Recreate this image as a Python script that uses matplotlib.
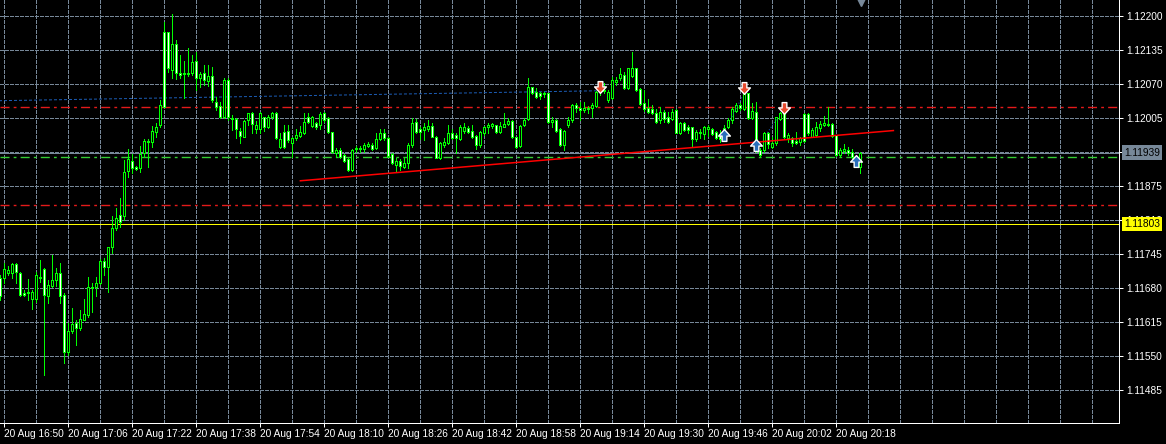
import numpy as np
import matplotlib
matplotlib.use('Agg')
import matplotlib.pyplot as plt
from matplotlib.path import Path

# EURUSD M1, 20 Aug 16:49 .. 20:24 (one candle per minute)
opens = [
    1.11699, 1.11699, 1.11709, 1.11709, 1.11726, 1.11709, 1.11671, 1.11671, 1.11659, 1.11659, 1.11699, 1.11717,
    1.11665, 1.11684, 1.11696, 1.11709, 1.11667, 1.11558, 1.11598, 1.11613, 1.11604, 1.11619, 1.11629, 1.11682,
    1.11682, 1.11690, 1.11732, 1.11720, 1.11759, 1.11795, 1.11820, 1.11818, 1.11904, 1.11923, 1.11912, 1.11910,
    1.11938, 1.11960, 1.11960, 1.11979, 1.11992, 1.12170, 1.12170, 1.12097, 1.12147, 1.12091, 1.12091, 1.12090,
    1.12091, 1.12114, 1.12082, 1.12091, 1.12076, 1.12086, 1.12036, 1.12028, 1.12007, 1.12078, 1.12005, 1.12003,
    1.11981, 1.11969, 1.12002, 1.12015, 1.11984, 1.11984, 1.12007, 1.11988, 1.12007, 1.12015, 1.11950, 1.11979,
    1.11981, 1.11958, 1.11967, 1.11971, 1.11977, 1.12007, 1.11990, 1.11996, 1.11992, 1.12015, 1.12005, 1.11979,
    1.11938, 1.11944, 1.11935, 1.11927, 1.11906, 1.11946, 1.11948, 1.11946, 1.11952, 1.11954, 1.11948, 1.11965,
    1.11977, 1.11967, 1.11937, 1.11916, 1.11923, 1.11912, 1.11919, 1.11954, 1.11998, 1.11984, 1.11982, 1.11984,
    1.11990, 1.11969, 1.11929, 1.11954, 1.11958, 1.11977, 1.11973, 1.11965, 1.11981, 1.11986, 1.11981, 1.11971,
    1.11954, 1.11977, 1.11988, 1.11990, 1.11992, 1.11979, 1.11988, 1.11994, 1.12000, 1.11969, 1.11952, 1.11992,
    1.12003, 1.12065, 1.12055, 1.12053, 1.12053, 1.12053, 1.11998, 1.12002, 1.11984, 1.11954, 1.11992, 1.12002,
    1.12030, 1.12024, 1.12021, 1.12024, 1.12024, 1.12028, 1.12055, 1.12059, 1.12040, 1.12044, 1.12074, 1.12082,
    1.12088, 1.12063, 1.12086, 1.12101, 1.12061, 1.12034, 1.12024, 1.12023, 1.12015, 1.12002, 1.12017, 1.12007,
    1.12003, 1.12021, 1.11977, 1.11996, 1.11988, 1.11988, 1.11965, 1.11979, 1.11975, 1.11984, 1.11984, 1.11979,
    1.11975, 1.11979, 1.11988, 1.12002, 1.12019, 1.12030, 1.12023, 1.12053, 1.12005, 1.12017, 1.11944, 1.11944,
    1.11977, 1.11950, 1.11958, 1.12003, 1.12015, 1.11967, 1.11967, 1.11961, 1.11960, 1.12013, 1.12013, 1.11969,
    1.11973, 1.11986, 1.11992, 1.11992, 1.11994, 1.11973, 1.11935, 1.11942, 1.11944, 1.11940, 1.11931, 1.11912,
]
highs = [
    1.11705, 1.11728, 1.11722, 1.11728, 1.11728, 1.11711, 1.11677, 1.11698, 1.11677, 1.11711, 1.11734, 1.11719,
    1.11696, 1.11743, 1.11719, 1.11728, 1.11671, 1.11613, 1.11642, 1.11619, 1.11638, 1.11659, 1.11701, 1.11690,
    1.11701, 1.11736, 1.11738, 1.11759, 1.11818, 1.11833, 1.11852, 1.11925, 1.11946, 1.11937, 1.11914, 1.11952,
    1.11965, 1.11965, 1.11990, 1.11996, 1.12040, 1.12189, 1.12170, 1.12204, 1.12155, 1.12126, 1.12114, 1.12139,
    1.12126, 1.12132, 1.12093, 1.12107, 1.12107, 1.12103, 1.12046, 1.12036, 1.12082, 1.12082, 1.12011, 1.12005,
    1.11986, 1.12002, 1.12015, 1.12017, 1.12000, 1.12017, 1.12007, 1.12011, 1.12017, 1.12017, 1.11977, 1.11992,
    1.11992, 1.11969, 1.11984, 1.11990, 1.12015, 1.12015, 1.12009, 1.11998, 1.12017, 1.12017, 1.12007, 1.11979,
    1.11948, 1.11948, 1.11937, 1.11929, 1.11946, 1.11952, 1.11952, 1.11958, 1.11960, 1.11958, 1.11977, 1.11984,
    1.11984, 1.11969, 1.11938, 1.11929, 1.11927, 1.11929, 1.11958, 1.12005, 1.12003, 1.11988, 1.11996, 1.12002,
    1.11996, 1.11971, 1.11960, 1.11967, 1.11992, 1.11984, 1.11977, 1.11992, 1.11996, 1.11990, 1.11992, 1.11973,
    1.11981, 1.11990, 1.11996, 1.11996, 1.11992, 1.11998, 1.12015, 1.12005, 1.12002, 1.11969, 1.11992, 1.12005,
    1.12082, 1.12065, 1.12063, 1.12055, 1.12055, 1.12053, 1.12007, 1.12003, 1.11986, 1.11982, 1.12007, 1.12032,
    1.12034, 1.12036, 1.12036, 1.12028, 1.12034, 1.12057, 1.12072, 1.12072, 1.12059, 1.12084, 1.12084, 1.12101,
    1.12093, 1.12101, 1.12132, 1.12101, 1.12063, 1.12059, 1.12042, 1.12030, 1.12023, 1.12026, 1.12021, 1.12017,
    1.12023, 1.12023, 1.11998, 1.11998, 1.11992, 1.11988, 1.11982, 1.11984, 1.11990, 1.11992, 1.11986, 1.11981,
    1.11982, 1.11992, 1.12005, 1.12026, 1.12034, 1.12034, 1.12053, 1.12053, 1.12034, 1.12036, 1.11948, 1.11979,
    1.11979, 1.11969, 1.12007, 1.12017, 1.12015, 1.11977, 1.11969, 1.11979, 1.11969, 1.12015, 1.12015, 1.11986,
    1.11998, 1.12000, 1.12009, 1.12026, 1.11996, 1.11973, 1.11948, 1.11956, 1.11950, 1.11946, 1.11933, 1.11940,
]
lows = [
    1.11657, 1.11690, 1.11705, 1.11699, 1.11690, 1.11665, 1.11665, 1.11657, 1.11640, 1.11654, 1.11692, 1.11514,
    1.11652, 1.11682, 1.11684, 1.11652, 1.11537, 1.11552, 1.11594, 1.11571, 1.11600, 1.11619, 1.11625, 1.11635,
    1.11665, 1.11688, 1.11705, 1.11673, 1.11747, 1.11791, 1.11797, 1.11810, 1.11893, 1.11900, 1.11906, 1.11902,
    1.11931, 1.11912, 1.11950, 1.11969, 1.11988, 1.12026, 1.12093, 1.12082, 1.12080, 1.12082, 1.12044, 1.12086,
    1.12088, 1.12059, 1.12065, 1.12068, 1.12067, 1.12036, 1.12021, 1.12005, 1.12005, 1.12002, 1.11982, 1.11967,
    1.11958, 1.11969, 1.11992, 1.11977, 1.11977, 1.11977, 1.11981, 1.11986, 1.12003, 1.11965, 1.11948, 1.11948,
    1.11960, 1.11931, 1.11963, 1.11969, 1.11975, 1.11996, 1.11988, 1.11984, 1.11984, 1.11998, 1.11977, 1.11938,
    1.11931, 1.11929, 1.11921, 1.11904, 1.11904, 1.11940, 1.11940, 1.11940, 1.11950, 1.11944, 1.11946, 1.11963,
    1.11963, 1.11931, 1.11917, 1.11902, 1.11906, 1.11910, 1.11910, 1.11950, 1.11977, 1.11965, 1.11963, 1.11981,
    1.11969, 1.11929, 1.11927, 1.11950, 1.11956, 1.11965, 1.11938, 1.11963, 1.11977, 1.11977, 1.11967, 1.11946,
    1.11950, 1.11973, 1.11977, 1.11986, 1.11977, 1.11977, 1.11988, 1.11992, 1.11967, 1.11948, 1.11950, 1.11990,
    1.12002, 1.12051, 1.12044, 1.12042, 1.12046, 1.11996, 1.11988, 1.11979, 1.11952, 1.11944, 1.11988, 1.11998,
    1.12017, 1.12002, 1.12017, 1.12015, 1.12007, 1.12026, 1.12049, 1.12053, 1.12036, 1.12042, 1.12068, 1.12078,
    1.12061, 1.12061, 1.12084, 1.12057, 1.12030, 1.12019, 1.12015, 1.12013, 1.11996, 1.11996, 1.11998, 1.11996,
    1.12002, 1.11977, 1.11975, 1.11981, 1.11977, 1.11950, 1.11961, 1.11967, 1.11965, 1.11971, 1.11973, 1.11965,
    1.11960, 1.11977, 1.11986, 1.11996, 1.12017, 1.12021, 1.12021, 1.12003, 1.12003, 1.11940, 1.11931, 1.11940,
    1.11948, 1.11948, 1.11954, 1.12002, 1.11967, 1.11960, 1.11952, 1.11956, 1.11954, 1.11960, 1.11973, 1.11969,
    1.11971, 1.11981, 1.11990, 1.11990, 1.11969, 1.11933, 1.11931, 1.11938, 1.11935, 1.11929, 1.11912, 1.11900,
]
closes = [
    1.11665, 1.11717, 1.11715, 1.11726, 1.11711, 1.11667, 1.11667, 1.11673, 1.11673, 1.11705, 1.11701, 1.11667,
    1.11686, 1.11696, 1.11709, 1.11665, 1.11558, 1.11598, 1.11612, 1.11604, 1.11621, 1.11631, 1.11682, 1.11680,
    1.11690, 1.11732, 1.11720, 1.11759, 1.11795, 1.11814, 1.11807, 1.11902, 1.11927, 1.11910, 1.11908, 1.11937,
    1.11961, 1.11961, 1.11981, 1.11988, 1.12030, 1.12026, 1.12101, 1.12147, 1.12091, 1.12088, 1.12090, 1.12091,
    1.12112, 1.12082, 1.12090, 1.12078, 1.12086, 1.12040, 1.12026, 1.12007, 1.12078, 1.12007, 1.12003, 1.11984,
    1.11971, 1.12000, 1.12015, 1.11994, 1.11992, 1.12015, 1.11988, 1.12007, 1.12015, 1.11967, 1.11965, 1.11950,
    1.11963, 1.11967, 1.11973, 1.11979, 1.11998, 1.11998, 1.12007, 1.11988, 1.12013, 1.12002, 1.11979, 1.11940,
    1.11944, 1.11931, 1.11923, 1.11906, 1.11944, 1.11948, 1.11946, 1.11954, 1.11956, 1.11946, 1.11965, 1.11977,
    1.11967, 1.11933, 1.11919, 1.11923, 1.11914, 1.11919, 1.11954, 1.11996, 1.11979, 1.11979, 1.11988, 1.11990,
    1.11969, 1.11929, 1.11958, 1.11960, 1.11977, 1.11967, 1.11967, 1.11988, 1.11988, 1.11979, 1.11969, 1.11954,
    1.11979, 1.11988, 1.11992, 1.11994, 1.11979, 1.11990, 1.11994, 1.12000, 1.11969, 1.11950, 1.11990, 1.12002,
    1.12065, 1.12053, 1.12046, 1.12047, 1.12051, 1.11998, 1.12002, 1.11981, 1.11954, 1.11981, 1.12002, 1.12030,
    1.12024, 1.12021, 1.12024, 1.12023, 1.12030, 1.12055, 1.12059, 1.12057, 1.12055, 1.12078, 1.12078, 1.12090,
    1.12063, 1.12101, 1.12101, 1.12059, 1.12032, 1.12023, 1.12017, 1.12015, 1.11998, 1.12017, 1.12003, 1.11998,
    1.12017, 1.11977, 1.11996, 1.11982, 1.11982, 1.11965, 1.11979, 1.11977, 1.11988, 1.11988, 1.11975, 1.11967,
    1.11965, 1.11986, 1.12002, 1.12023, 1.12030, 1.12024, 1.12053, 1.12005, 1.12019, 1.11944, 1.11935, 1.11977,
    1.11956, 1.11958, 1.12007, 1.12015, 1.11969, 1.11973, 1.11958, 1.11958, 1.11967, 1.11961, 1.11977, 1.11982,
    1.11988, 1.11994, 1.11996, 1.11994, 1.11971, 1.11935, 1.11944, 1.11946, 1.11938, 1.11931, 1.11916, 1.11939,
]

# time axis labels, every 16 bars starting at bar 1 (16:50)
time_labels = ['20 Aug 16:50', '20 Aug 17:06', '20 Aug 17:22', '20 Aug 17:38', '20 Aug 17:54',
               '20 Aug 18:10', '20 Aug 18:26', '20 Aug 18:42', '20 Aug 18:58', '20 Aug 19:14',
               '20 Aug 19:30', '20 Aug 19:46', '20 Aug 20:02', '20 Aug 20:18']
price_grid = [1.11485, 1.11550, 1.11615, 1.11680, 1.11745, 1.11810,
              1.11875, 1.11940, 1.12005, 1.12070, 1.12135, 1.12200]

bid = 1.11939
alert_level = 1.11803
red_levels = [1.12026, 1.11839]
green_level = 1.11931

# trend lines: (bar, price) end points
support_line = ([75, 223.25], [1.11885, 1.11981])
blue_line = ([-1, 149], [1.12038, 1.12057])
blue_segments = [([182.5, 185.5], [1.12002, 1.12046]), ([191.75, 194.25], [1.11977, 1.12005])]

# signal arrows
sell_bars = [150, 186, 196]
sell_prices = [1.12065, 1.12063, 1.12024]
buy_bars = [181, 189, 214]
buy_prices = [1.11973, 1.11954, 1.11923]

plt.rcParams['font.family'] = ['Liberation Sans', 'DejaVu Sans']

PX = 0.72  # one pixel in points at dpi 100
LIME = '#00ff00'
GRID = '#778899'

fig = plt.figure(figsize=(11.66, 4.44), dpi=100, facecolor='black')
ax = fig.add_axes([0, 21 / 444, 1119 / 1166, 423 / 444], facecolor='black')

o = np.array(opens)
h = np.array(highs)
l = np.array(lows)
c = np.array(closes)
x = np.arange(len(o))

ax.vlines(x, l, h, color=LIME, lw=PX, zorder=4, antialiased=False)
bear = c < o
ax.bar(x, np.abs(c - o), bottom=np.minimum(o, c), width=0.5,
       color=np.where(bear, 'white', 'black'), edgecolor=LIME,
       linewidth=PX, zorder=5, antialiased=False)

# horizontal levels (dash-dot, pattern in units of line width)
levels_ls = (0, (6.5, 3, 2, 3))
for lv in red_levels:
    ax.axhline(lv, color='#e41a1a', lw=1.0, ls=levels_ls, zorder=2)
ax.axhline(green_level, color='#34cc34', lw=1.0, ls=levels_ls, zorder=2)
ax.axhline(bid, color=GRID, lw=PX, zorder=3, antialiased=False)
ax.axhline(alert_level, color='#ffff00', lw=PX, zorder=3, antialiased=False)

ax.plot(*support_line, color='#ff0000', lw=1.1, zorder=6)
ax.plot(*blue_line, color='#1c5cb4', lw=PX, ls=(0, (3, 2)), zorder=2)
for seg in blue_segments:
    ax.plot(*seg, color='#1c5cb4', lw=PX, ls=(0, (1, 2)), zorder=6)

# arrow markers
down = Path([(-0.2, 0.5), (0.2, 0.5), (0.2, 0.05), (0.5, 0.05), (0, -0.5),
             (-0.5, 0.05), (-0.2, 0.05), (-0.2, 0.5)], closed=True)
up = Path([(vx, -vy) for vx, vy in down.vertices], closed=True)
ax.plot(sell_bars, sell_prices, ls='none', marker=down, ms=8.5, mfc='#e64a2e',
        mec='white', mew=1.0, zorder=7)
ax.plot(buy_bars, buy_prices, ls='none', marker=up, ms=8.5, mfc='#2a6ebb',
        mec='white', mew=1.0, zorder=7)

# chart shift marker at the top
ax.plot([215.05], [1 - 2.5 / 423], transform=ax.get_xaxis_transform(),
        marker='v', ms=6, color=GRID, clip_on=False, zorder=8)

ax.set_xlim(-0.1, 279.65)
ax.set_ylim(1.114219, 1.122306)

ax.set_xticks(np.arange(1, 1 + 16 * len(time_labels), 16))
ax.set_xticklabels(time_labels)
ax.set_xticks(np.arange(1, 280, 8), minor=True)
for lbl in ax.get_xticklabels():
    lbl.set_horizontalalignment('left')

ax.yaxis.tick_right()
ax.set_yticks(price_grid)
ax.set_yticklabels([f'{p:.5f}' for p in price_grid])

ax.tick_params(axis='both', which='major', colors='white', labelcolor='white',
               length=4 * PX, width=PX, labelsize=7.3)
ax.tick_params(axis='x', which='major', pad=1.5)
ax.tick_params(axis='y', which='major', pad=2.2)
ax.tick_params(axis='x', which='minor', length=0)

ax.grid(True, which='both', axis='x', color=GRID, lw=PX, ls=(0, (3, 2)), zorder=1,
        antialiased=False)
ax.grid(True, which='major', axis='y', color=GRID, lw=PX, ls=(0, (3, 2)), zorder=1,
        antialiased=False)
ax.set_axisbelow(True)

for side in ['top', 'left']:
    ax.spines[side].set_visible(False)
for side in ['right', 'bottom']:
    ax.spines[side].set_color('white')
    ax.spines[side].set_linewidth(PX)

# price boxes on the scale
for val, bg in [(bid, GRID), (alert_level, '#ffff00')]:
    ax.annotate(f'{val:.5f}', xy=(1, val), xycoords=('axes fraction', 'data'),
                xytext=(5, 0), textcoords='offset pixels', ha='left', va='center',
                fontsize=7.3, color='black', annotation_clip=False,
                bbox=dict(boxstyle='square,pad=0.2', fc=bg, ec='none'))

fig.savefig('out.png', dpi=100, facecolor='black')
